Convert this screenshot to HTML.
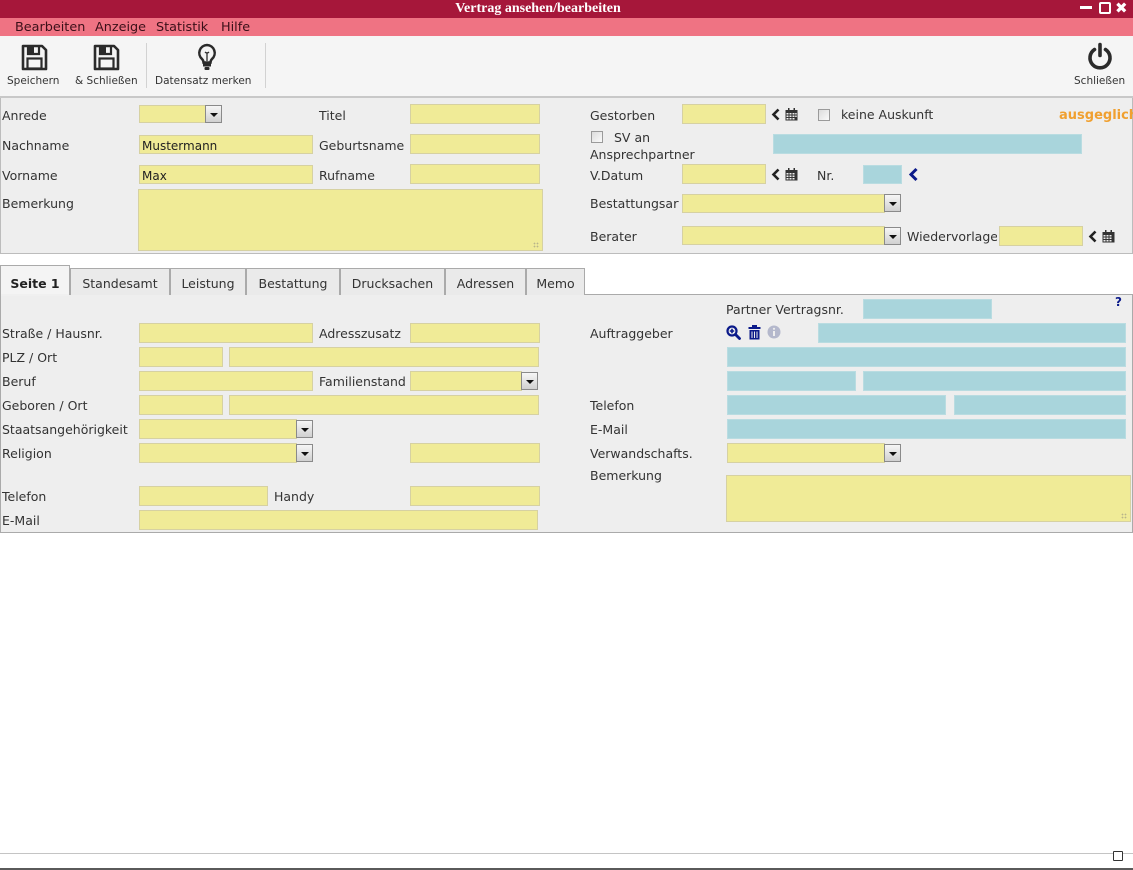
<!DOCTYPE html>
<html><head><meta charset="utf-8">
<style>
*{margin:0;padding:0;box-sizing:border-box}
body{width:1133px;height:870px;position:relative;overflow:hidden;background:#fff;font-family:"DejaVu Sans","Liberation Sans",sans-serif;color:#333}
.a{position:absolute}
.l{position:absolute;font-size:12.5px;line-height:14px;color:#333;white-space:nowrap;margin-top:1px}
.y{position:absolute;background:#f0eb97;border:1px solid #d6d1a2}
.b{position:absolute;background:#a9d5dc;border:1px solid #b9dce1}
.dd{position:absolute;width:17px;height:18px;border:1px solid #8a8a8a;background:linear-gradient(#f6f6f6,#d0d0d0)}
.dd:after{content:"";position:absolute;left:4px;top:7px;border-left:4px solid transparent;border-right:4px solid transparent;border-top:4px solid #111}
.cb{position:absolute;width:12px;height:12px;border:1px solid #9a9a9a;background:linear-gradient(135deg,#dcdcdc,#fafafa)}
.tab{position:absolute;top:268px;height:27px;border:1px solid #aaa;border-bottom:none;background:#eaeaea;font-size:12.5px;line-height:30px;text-align:center;color:#333}
.tl{position:absolute;top:75px;font-size:10.5px;line-height:12px;color:#333;white-space:nowrap}
.grip{position:absolute;width:6px;height:6px;background:radial-gradient(circle,#b8b48a 0.7px,transparent 1px) 0 0/3px 3px}
</style></head><body>

<!-- title bar -->
<div class="a" style="left:0;top:0;width:1133px;height:18px;background:#a6173a"></div>
<div class="a" style="left:0;top:1px;width:1076px;text-align:center;font:bold 14px 'Liberation Serif',serif;color:#fff;line-height:16px">Vertrag ansehen/bearbeiten</div>
<div class="a" style="left:1080px;top:6px;width:12px;height:3px;background:#fff"></div>
<div class="a" style="left:1099px;top:2px;width:12px;height:12px;border:2px solid #fff;border-radius:2px"></div>
<div class="a" style="left:1115px;top:0px;font:bold 15px 'DejaVu Sans',sans-serif;color:#fff;line-height:17px">✖</div>

<!-- menu bar -->
<div class="a" style="left:0;top:18px;width:1133px;height:18px;background:#ef7383"></div>
<div class="a" style="left:15px;top:19px;font-size:12.8px;line-height:17px;color:#3a0f18;white-space:nowrap">Bearbeiten</div>
<div class="a" style="left:95px;top:19px;font-size:12.8px;line-height:17px;color:#3a0f18">Anzeige</div>
<div class="a" style="left:156px;top:19px;font-size:12.8px;line-height:17px;color:#3a0f18">Statistik</div>
<div class="a" style="left:221px;top:19px;font-size:12.8px;line-height:17px;color:#3a0f18">Hilfe</div>

<!-- toolbar -->
<div class="a" style="left:0;top:36px;width:1133px;height:60px;background:#f5f5f5"></div>
<svg class="a" style="left:21px;top:44px" width="27" height="27" viewBox="0 0 27 27"><path d="M2 2h19l4 4v19H2z" fill="none" stroke="#2b2b2b" stroke-width="2.6" stroke-linejoin="round"/><path d="M7 2v8h11V2" fill="none" stroke="#2b2b2b" stroke-width="2.2"/><rect x="7" y="2" width="6" height="8" fill="#2b2b2b"/><rect x="6.5" y="14.5" width="14" height="10" fill="none" stroke="#2b2b2b" stroke-width="2.2"/></svg>
<svg class="a" style="left:93px;top:44px" width="27" height="27" viewBox="0 0 27 27"><path d="M2 2h19l4 4v19H2z" fill="none" stroke="#2b2b2b" stroke-width="2.6" stroke-linejoin="round"/><path d="M7 2v8h11V2" fill="none" stroke="#2b2b2b" stroke-width="2.2"/><rect x="7" y="2" width="6" height="8" fill="#2b2b2b"/><rect x="6.5" y="14.5" width="14" height="10" fill="none" stroke="#2b2b2b" stroke-width="2.2"/></svg>
<svg class="a" style="left:195px;top:43px" width="24" height="28" viewBox="0 0 24 28"><path d="M12 2a8 8 0 0 0-5 14c1 1 1.5 2 1.5 3.5h7c0-1.5.5-2.5 1.5-3.5A8 8 0 0 0 12 2z" fill="none" stroke="#2b2b2b" stroke-width="2.5"/><path d="M10 9q2 2 4 0M12 10v8" fill="none" stroke="#2b2b2b" stroke-width="1.3"/><rect x="8" y="20.5" width="8" height="3" fill="#2b2b2b"/><rect x="9.5" y="24" width="5" height="3" rx="1" fill="#2b2b2b"/></svg>
<svg class="a" style="left:1086px;top:42px" width="28" height="28" viewBox="0 0 28 28"><path d="M8.5 7.5a10 10 0 1 0 11 0" fill="none" stroke="#2b2b2b" stroke-width="3.6" stroke-linecap="round"/><path d="M14 2.5v11" stroke="#2b2b2b" stroke-width="3.6" stroke-linecap="round"/></svg>
<div class="tl" style="left:7px">Speichern</div>
<div class="tl" style="left:75px">&amp; Schließen</div>
<div class="tl" style="left:155px">Datensatz merken</div>
<div class="tl" style="left:1074px">Schließen</div>
<div class="a" style="left:146px;top:43px;width:1px;height:45px;background:#d2d2d2"></div>
<div class="a" style="left:265px;top:43px;width:1px;height:45px;background:#d2d2d2"></div>

<!-- header panel -->
<div class="a" style="left:0;top:96px;width:1133px;height:2px;background:#c8c8c8"></div>
<div class="a" style="left:0;top:98px;width:1133px;height:156px;background:#eeeeee;border:1px solid #bcbcbc;border-top:none"></div>

<div class="l" style="left:2px;top:108px">Anrede</div>
<div class="y" style="left:139px;top:105px;width:67px;height:18px"></div>
<div class="dd" style="left:205px;top:105px"></div>
<div class="l" style="left:319px;top:108px">Titel</div>
<div class="y" style="left:410px;top:104px;width:130px;height:20px"></div>

<div class="l" style="left:2px;top:138px">Nachname</div>
<div class="y" style="left:139px;top:135px;width:174px;height:19px"></div>
<div class="l" style="left:142px;top:138px;font-size:12px;color:#222">Mustermann</div>
<div class="l" style="left:319px;top:138px">Geburtsname</div>
<div class="y" style="left:410px;top:134px;width:130px;height:20px"></div>

<div class="l" style="left:2px;top:168px">Vorname</div>
<div class="y" style="left:139px;top:165px;width:174px;height:19px"></div>
<div class="l" style="left:142px;top:168px;font-size:12px;color:#222">Max</div>
<div class="l" style="left:319px;top:168px">Rufname</div>
<div class="y" style="left:410px;top:164px;width:130px;height:20px"></div>

<div class="l" style="left:2px;top:196px">Bemerkung</div>
<div class="y" style="left:138px;top:189px;width:405px;height:62px"></div>
<div class="grip" style="left:533px;top:242px"></div>

<!-- header right -->
<div class="l" style="left:590px;top:108px">Gestorben</div>
<div class="y" style="left:682px;top:104px;width:84px;height:20px"></div>
<svg class="a" style="left:771px;top:108px" width="10" height="13" viewBox="0 0 10 13"><path d="M7.5 1.5l-5 5 5 5" fill="none" stroke="#222" stroke-width="2.6"/></svg>
<svg class="a" style="left:785px;top:108px" width="13" height="13" viewBox="0 0 13 13"><rect x="0.5" y="2" width="12" height="10.5" fill="#333"/><rect x="3" y="0" width="1.5" height="3" fill="#333"/><rect x="8.5" y="0" width="1.5" height="3" fill="#333"/><g fill="#eee"><rect x="1.5" y="5" width="2" height="1.5"/><rect x="4.5" y="5" width="2" height="1.5"/><rect x="7.5" y="5" width="2" height="1.5"/><rect x="1.5" y="7.5" width="2" height="1.5"/><rect x="4.5" y="7.5" width="2" height="1.5"/><rect x="7.5" y="7.5" width="2" height="1.5"/><rect x="1.5" y="10" width="2" height="1.5"/><rect x="4.5" y="10" width="2" height="1.5"/><rect x="7.5" y="10" width="2" height="1.5"/><rect x="10.2" y="5" width="1.5" height="1.5"/><rect x="10.2" y="7.5" width="1.5" height="1.5"/></g></svg>
<div class="cb" style="left:818px;top:109px"></div>
<div class="l" style="left:841px;top:107px">keine Auskunft</div>
<div class="l" style="left:1059px;top:108px;font-weight:bold;font-size:13px;color:#f0a030">ausgeglichen</div>

<div class="cb" style="left:591px;top:131px"></div>
<div class="l" style="left:614px;top:130px">SV an</div>
<div class="l" style="left:590px;top:147px">Ansprechpartner</div>
<div class="b" style="left:773px;top:134px;width:309px;height:20px"></div>

<div class="l" style="left:590px;top:168px">V.Datum</div>
<div class="y" style="left:682px;top:164px;width:84px;height:20px"></div>
<svg class="a" style="left:771px;top:168px" width="10" height="13" viewBox="0 0 10 13"><path d="M7.5 1.5l-5 5 5 5" fill="none" stroke="#222" stroke-width="2.6"/></svg>
<svg class="a" style="left:785px;top:168px" width="13" height="13" viewBox="0 0 13 13"><rect x="0.5" y="2" width="12" height="10.5" fill="#333"/><rect x="3" y="0" width="1.5" height="3" fill="#333"/><rect x="8.5" y="0" width="1.5" height="3" fill="#333"/><g fill="#eee"><rect x="1.5" y="5" width="2" height="1.5"/><rect x="4.5" y="5" width="2" height="1.5"/><rect x="7.5" y="5" width="2" height="1.5"/><rect x="1.5" y="7.5" width="2" height="1.5"/><rect x="4.5" y="7.5" width="2" height="1.5"/><rect x="7.5" y="7.5" width="2" height="1.5"/><rect x="1.5" y="10" width="2" height="1.5"/><rect x="4.5" y="10" width="2" height="1.5"/><rect x="7.5" y="10" width="2" height="1.5"/></g></svg>
<div class="l" style="left:817px;top:168px">Nr.</div>
<div class="b" style="left:863px;top:165px;width:39px;height:19px"></div>
<svg class="a" style="left:908px;top:167px" width="11" height="15" viewBox="0 0 11 15"><path d="M8.5 2l-5.5 5.5 5.5 5.5" fill="none" stroke="#0b1a8a" stroke-width="3"/></svg>

<div class="l" style="left:590px;top:196px;width:89px;overflow:hidden">Bestattungsart</div>
<div class="y" style="left:682px;top:194px;width:203px;height:19px"></div>
<div class="dd" style="left:884px;top:194px"></div>

<div class="l" style="left:590px;top:229px">Berater</div>
<div class="y" style="left:682px;top:226px;width:203px;height:19px"></div>
<div class="dd" style="left:884px;top:227px"></div>
<div class="l" style="left:907px;top:229px;width:90px;overflow:hidden">Wiedervorlage</div>
<div class="y" style="left:999px;top:226px;width:84px;height:20px"></div>
<svg class="a" style="left:1088px;top:230px" width="10" height="13" viewBox="0 0 10 13"><path d="M7.5 1.5l-5 5 5 5" fill="none" stroke="#222" stroke-width="2.6"/></svg>
<svg class="a" style="left:1102px;top:230px" width="13" height="13" viewBox="0 0 13 13"><rect x="0.5" y="2" width="12" height="10.5" fill="#333"/><rect x="3" y="0" width="1.5" height="3" fill="#333"/><rect x="8.5" y="0" width="1.5" height="3" fill="#333"/><g fill="#eee"><rect x="1.5" y="5" width="2" height="1.5"/><rect x="4.5" y="5" width="2" height="1.5"/><rect x="7.5" y="5" width="2" height="1.5"/><rect x="1.5" y="7.5" width="2" height="1.5"/><rect x="4.5" y="7.5" width="2" height="1.5"/><rect x="7.5" y="7.5" width="2" height="1.5"/><rect x="1.5" y="10" width="2" height="1.5"/><rect x="4.5" y="10" width="2" height="1.5"/><rect x="7.5" y="10" width="2" height="1.5"/></g></svg>

<!-- tabs -->
<div class="a" style="left:0;top:294px;width:1133px;height:239px;background:#eeeeee;border:1px solid #aaaaaa"></div>
<div class="tab" style="left:0;top:265px;height:30px;width:70px;background:#f4f4f4;font-weight:bold;line-height:36px;color:#222">Seite 1</div>
<div class="tab" style="left:70px;width:100px">Standesamt</div>
<div class="tab" style="left:170px;width:76px">Leistung</div>
<div class="tab" style="left:246px;width:94px">Bestattung</div>
<div class="tab" style="left:340px;width:105px">Drucksachen</div>
<div class="tab" style="left:445px;width:81px">Adressen</div>
<div class="tab" style="left:526px;width:59px">Memo</div>
<div class="a" style="left:1px;top:294px;width:68px;height:2px;background:#f0f0f0"></div>

<!-- left content -->
<div class="l" style="left:2px;top:326px">Straße / Hausnr.</div>
<div class="y" style="left:139px;top:323px;width:174px;height:20px"></div>
<div class="l" style="left:319px;top:326px">Adresszusatz</div>
<div class="y" style="left:410px;top:323px;width:130px;height:20px"></div>

<div class="l" style="left:2px;top:350px">PLZ / Ort</div>
<div class="y" style="left:139px;top:347px;width:84px;height:20px"></div>
<div class="y" style="left:229px;top:347px;width:310px;height:20px"></div>

<div class="l" style="left:2px;top:374px">Beruf</div>
<div class="y" style="left:139px;top:371px;width:174px;height:20px"></div>
<div class="l" style="left:319px;top:374px">Familienstand</div>
<div class="y" style="left:410px;top:371px;width:112px;height:20px"></div>
<div class="dd" style="left:521px;top:372px"></div>

<div class="l" style="left:2px;top:398px">Geboren / Ort</div>
<div class="y" style="left:139px;top:395px;width:84px;height:20px"></div>
<div class="y" style="left:229px;top:395px;width:310px;height:20px"></div>

<div class="l" style="left:2px;top:422px">Staatsangehörigkeit</div>
<div class="y" style="left:139px;top:419px;width:158px;height:20px"></div>
<div class="dd" style="left:296px;top:420px"></div>

<div class="l" style="left:2px;top:446px">Religion</div>
<div class="y" style="left:139px;top:443px;width:158px;height:20px"></div>
<div class="dd" style="left:296px;top:444px"></div>
<div class="y" style="left:410px;top:443px;width:130px;height:20px"></div>

<div class="l" style="left:2px;top:489px">Telefon</div>
<div class="y" style="left:139px;top:486px;width:129px;height:20px"></div>
<div class="l" style="left:274px;top:489px">Handy</div>
<div class="y" style="left:410px;top:486px;width:130px;height:20px"></div>

<div class="l" style="left:2px;top:513px">E-Mail</div>
<div class="y" style="left:139px;top:510px;width:399px;height:20px"></div>

<!-- right content -->
<div class="l" style="left:726px;top:302px">Partner Vertragsnr.</div>
<div class="b" style="left:863px;top:299px;width:129px;height:20px"></div>
<div class="l" style="left:1115px;top:294px;font-weight:bold;font-size:12px;color:#0b1a8a">?</div>

<div class="l" style="left:590px;top:326px">Auftraggeber</div>
<svg class="a" style="left:726px;top:325px" width="15" height="15" viewBox="0 0 15 15"><circle cx="6" cy="6" r="4.5" fill="none" stroke="#0b1a8a" stroke-width="2.2"/><path d="M9.5 9.5l4 4" stroke="#0b1a8a" stroke-width="2.8" stroke-linecap="round"/><path d="M6 3.8v4.4M3.8 6h4.4" stroke="#0b1a8a" stroke-width="1.6"/></svg>
<svg class="a" style="left:748px;top:325px" width="13" height="15" viewBox="0 0 13 15"><rect x="0.5" y="2" width="12" height="2" fill="#0b1a8a"/><rect x="4" y="0" width="5" height="2" fill="#0b1a8a"/><path d="M1.5 5h10v9.5h-10z" fill="#0b1a8a"/><path d="M4 6.5v6.5M6.5 6.5v6.5M9 6.5v6.5" stroke="#eee" stroke-width="1"/></svg>
<svg class="a" style="left:767px;top:325px" width="14" height="14" viewBox="0 0 14 14"><circle cx="7" cy="7" r="6.5" fill="#b4b8cc"/><rect x="6" y="6" width="2" height="5" fill="#eee"/><circle cx="7" cy="3.8" r="1.1" fill="#eee"/></svg>
<div class="b" style="left:818px;top:323px;width:308px;height:20px"></div>
<div class="b" style="left:727px;top:347px;width:399px;height:20px"></div>
<div class="b" style="left:727px;top:371px;width:129px;height:20px"></div>
<div class="b" style="left:863px;top:371px;width:263px;height:20px"></div>

<div class="l" style="left:590px;top:398px">Telefon</div>
<div class="b" style="left:727px;top:395px;width:219px;height:20px"></div>
<div class="b" style="left:954px;top:395px;width:172px;height:20px"></div>

<div class="l" style="left:590px;top:422px">E-Mail</div>
<div class="b" style="left:727px;top:419px;width:399px;height:20px"></div>

<div class="l" style="left:590px;top:446px">Verwandschafts.</div>
<div class="y" style="left:727px;top:443px;width:158px;height:20px"></div>
<div class="dd" style="left:884px;top:444px"></div>

<div class="l" style="left:590px;top:468px">Bemerkung</div>
<div class="y" style="left:726px;top:475px;width:405px;height:47px"></div>
<div class="grip" style="left:1121px;top:513px"></div>

<!-- footer -->
<div class="a" style="left:0;top:853px;width:1133px;height:1px;background:#c4c4c4"></div>
<div class="a" style="left:1113px;top:851px;width:10px;height:10px;border:1px solid #333;border-radius:1px;background:#fff"></div>
<div class="a" style="left:0;top:868px;width:1133px;height:2px;background:#5a5a5a"></div>

</body></html>
